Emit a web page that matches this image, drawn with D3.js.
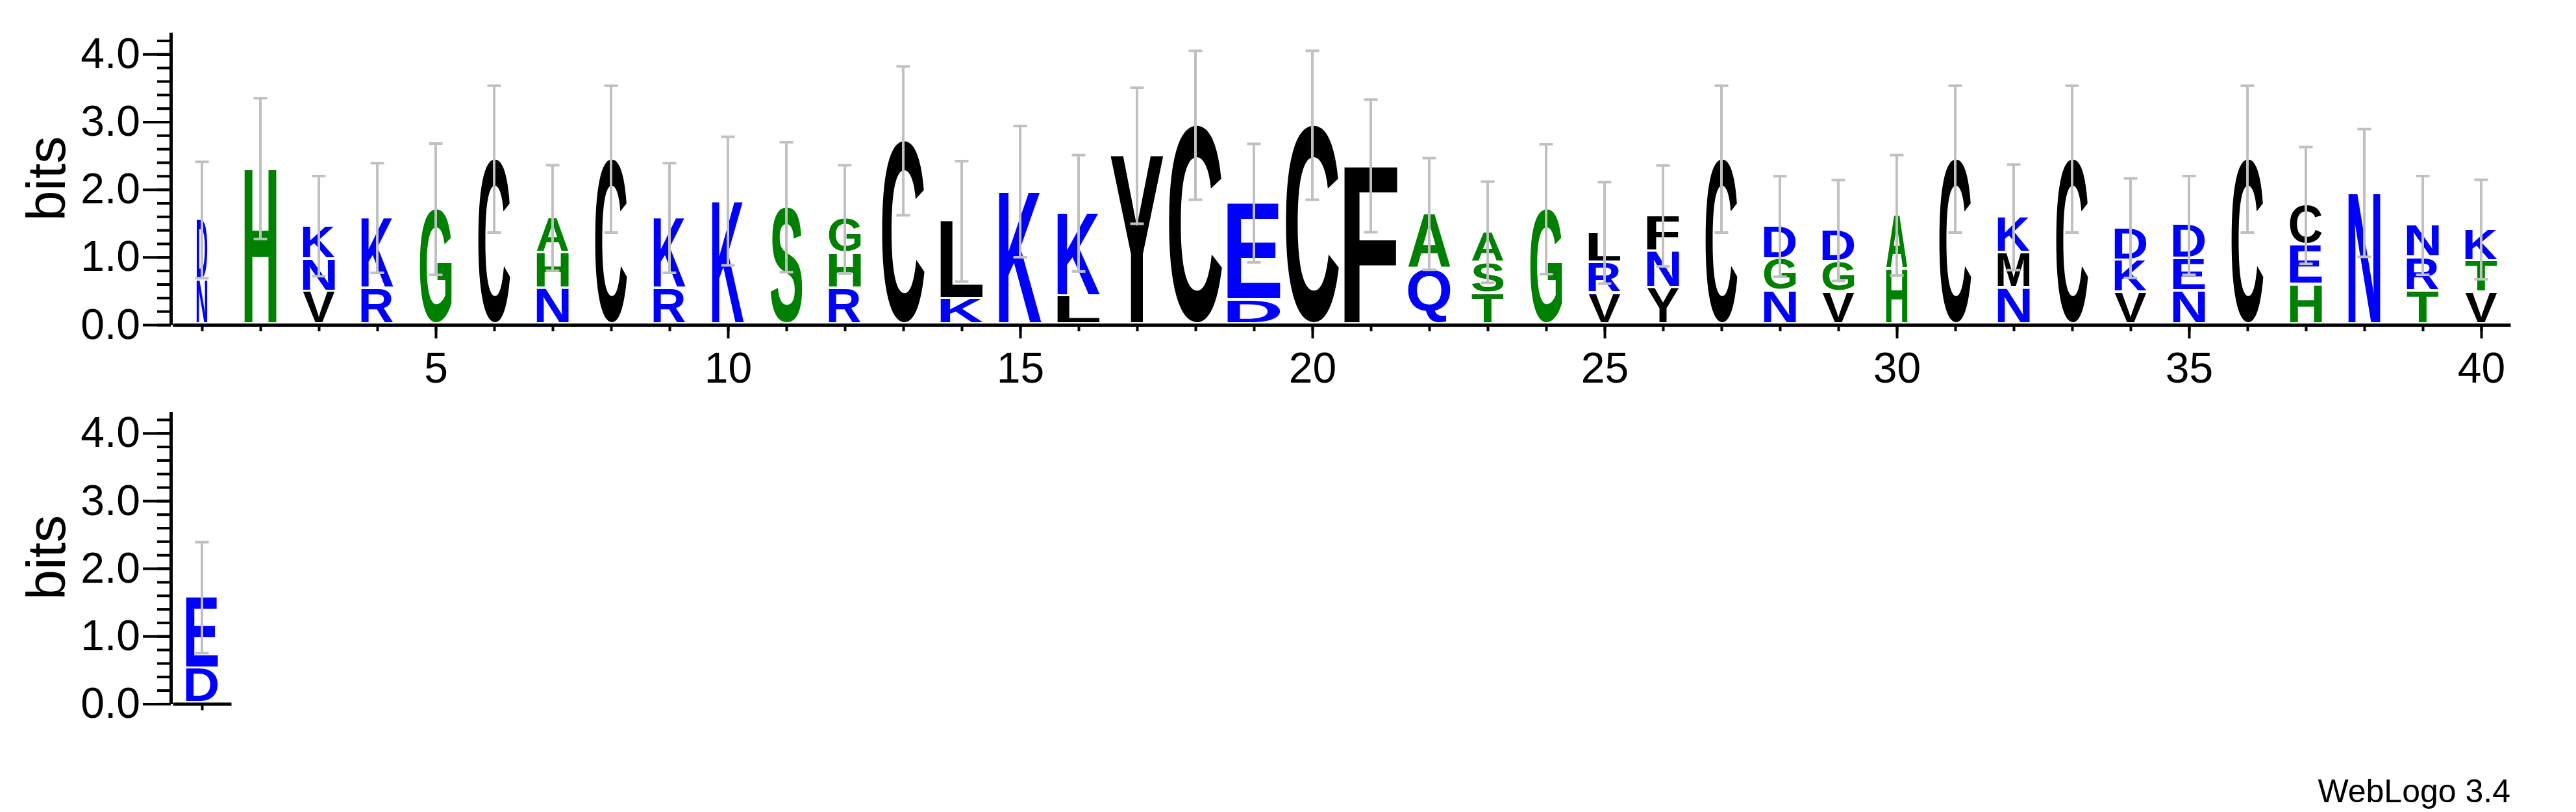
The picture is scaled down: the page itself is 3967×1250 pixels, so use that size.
<!DOCTYPE html>
<html>
<head>
<meta charset="utf-8">
<script src="https://cdn.jsdelivr.net/npm/d3@7"></script>
<style>
body { margin: 0; background: #fff; }
svg { display: block; }
</style>
</head>
<body>
<div id="logo"></div>
<script>

// ---- data (row 1: positions 1-40, row 2: position 1) ----
var positions = d3.range(1, 41);

// letters of each stack, bottom to top
var stackLetters = ["ND", "H", "VNK", "RK", "G", "C", "NHA", "C", "RK", "K",
    "S", "RHG", "C", "KL", "K", "LK", "Y", "C", "DE", "C",
    "F", "QA", "TSA", "G", "VRL", "YNF", "C", "NGD", "VGD", "HA",
    "C", "NMK", "C", "VKD", "NED", "C", "HEC", "N", "TRN", "VTK"];

// height in bits of each letter, same order
var stackBits = [[0.62, 0.89], [2.27], [0.45, 0.48, 0.49], [0.49, 1.05], [1.67], [2.41], [0.49, 0.53, 0.52], [2.41], [0.49, 1.05], [1.79],
    [1.70], [0.49, 0.52, 0.51], [2.68], [0.34, 1.15], [1.93], [0.38, 1.23], [2.46], [2.91], [0.32, 1.44], [2.91],
    [2.31], [0.78, 0.82], [0.42, 0.455, 0.455], [1.67], [0.42, 0.455, 0.445], [0.50, 0.54, 0.53], [2.41], [0.455, 0.475, 0.485], [0.435, 0.455, 0.465], [0.78, 0.80],
    [2.41], [0.50, 0.52, 0.53], [2.41], [0.435, 0.475, 0.48], [0.455, 0.48, 0.495], [2.41], [0.55, 0.585, 0.59], [1.91], [0.455, 0.495, 0.48], [0.435, 0.465, 0.47]];

// half length of error bar, bits
var errorBits = [0.86, 1.04, 0.74, 0.81, 0.97, 1.085, 0.78, 1.085, 0.81, 0.95,
    0.96, 0.80, 1.10, 0.89, 0.97, 0.86, 1.005, 1.10, 0.876, 1.10,
    0.98, 0.825, 0.747, 0.96, 0.75, 0.746, 1.085, 0.743, 0.745, 0.89,
    1.085, 0.78, 1.085, 0.735, 0.73, 1.085, 0.863, 0.944, 0.73, 0.735];

// fraction of sequences present (stack width)
var stackFill = [0.2, 0.6, 0.6, 0.6, 0.6, 0.6, 0.6, 0.6, 0.6, 0.6,
    0.6, 0.6, 0.8, 0.8, 0.8, 0.8, 1.0, 1.0, 1.0, 1.0,
    1.0, 0.8, 0.6, 0.6, 0.6, 0.6, 0.6, 0.6, 0.6, 0.4,
    0.6, 0.6, 0.6, 0.6, 0.6, 0.6, 0.6, 0.6, 0.6, 0.6];

var row2Positions = [1];
var row2Letters = ["DE"];
var row2Bits = [[0.48, 1.05]];
var row2Error = [0.82];
var row2Fill = [0.6];

var yTickValues = [0, 1, 2, 3, 4];
var xTickValues = [5, 10, 15, 20, 25, 30, 35, 40];

// hydrophobicity colour scheme
var hydrophilic = "RKDENQ",
    neutral = "SGHTAP";

function letterColor(c) {
    if (hydrophilic.indexOf(c) >= 0) return "#0000ff";
    if (neutral.indexOf(c) >= 0) return "#008000";
    return "#000000";
}

var width = 3967,
    height = 1250,
    maxBits = 4.32,
    fullWidth = 81.5,
    letterGap = 3.6,
    labelFont = "'Liberation Sans', Arial, Helvetica, sans-serif";

var svg = d3.select("#logo")
    .append("svg")
    .attr("width", width)
    .attr("height", height);

svg.append("rect")
    .attr("width", width)
    .attr("height", height)
    .attr("fill", "#fff");

// ink box of a glyph, measured on a canvas
var canvas = document.createElement("canvas");
var ctx = canvas.getContext("2d");
ctx.font = "bold 200px 'Liberation Sans'";
var inkCache = {};

function ink(ch) {
    if (!inkCache[ch]) {
        var m = ctx.measureText(ch);
        inkCache[ch] = {
            left: -m.actualBoundingBoxLeft,
            right: m.actualBoundingBoxRight,
            top: -m.actualBoundingBoxAscent,
            bottom: m.actualBoundingBoxDescent
        };
    }
    return inkCache[ch];
}

function drawGlyph(g, ch, x0, y0, w, h) {
    var b = ink(ch);
    var sx = w / (b.right - b.left),
        sy = h / (b.bottom - b.top);
    g.append("text")
        .attr("font-family", "'Liberation Sans'")
        .attr("font-weight", "bold")
        .attr("font-size", 200)
        .attr("fill", letterColor(ch))
        .attr("transform", "translate(" + x0 + "," + y0 + ") scale(" + sx + "," + sy + ") translate(" + (-b.left) + "," + (-b.top) + ")")
        .text(ch);
}

function drawRow(opts) {
    var y = d3.scaleLinear()
        .domain([0, maxBits])
        .range([opts.bottom, opts.bottom - 450]);

    var x = d3.scaleLinear()
        .domain([opts.positions[0] - 0.5, opts.positions[opts.positions.length - 1] + 0.5])
        .range([266, 266 + 90 * opts.positions.length]);

    function px(b) {
        return y(0) - y(b);
    }

    var base = y(0) - 4;

    // y axis: minor then major ticks
    var yMinor = svg.append("g")
        .attr("transform", "translate(263,0)")
        .call(d3.axisLeft(y).tickValues(d3.range(0, 4.3, 0.2)).tickSize(21).tickFormat(""));
    yMinor.select(".domain").remove();

    var yMajor = svg.append("g")
        .attr("transform", "translate(263,0)")
        .call(d3.axisLeft(y).tickValues(yTickValues).tickSize(43).tickSizeOuter(0).tickPadding(4).tickFormat(d3.format(".1f")));

    // x axis
    var xMinor = svg.append("g")
        .attr("transform", "translate(0," + y(0) + ")")
        .call(d3.axisBottom(x).tickValues(opts.positions).tickSize(10).tickSizeOuter(0).tickFormat(""));

    var xMajor = svg.append("g")
        .attr("transform", "translate(0," + y(0) + ")")
        .call(d3.axisBottom(x).tickValues(opts.xLabels).tickSize(21).tickPadding(21));
    xMajor.select(".domain").remove();

    yMinor.selectAll(".tick text").remove();
    xMinor.selectAll(".tick text").remove();

    [yMinor, yMajor, xMinor, xMajor].forEach(function(a) {
        a.attr("font-family", labelFont).attr("font-size", 66);
        a.selectAll(".tick line").attr("stroke-width", 4);
        a.selectAll(".domain").attr("stroke-width", 5);
        a.selectAll("text").attr("fill", "#000");
    });

    svg.append("text")
        .attr("transform", "translate(100," + y(maxBits / 2) + ") rotate(-90)")
        .attr("text-anchor", "middle")
        .attr("font-family", labelFont)
        .attr("font-size", 84)
        .text("bits");

    var stacks = svg.append("g");
    var bars = svg.append("g");

    opts.positions.forEach(function(p, i) {
        var cx = x(p),
            w = fullWidth * opts.fill[i],
            cum = 0;
        var letters = opts.letters[i].split("");
        letters.forEach(function(ch, j) {
            var h = opts.bits[i][j];
            var yb = base - px(cum),
                yt = base - px(cum + h);
            if (j > 0) yb -= letterGap;
            drawGlyph(stacks, ch, cx - w / 2, yt, w, yb - yt);
            cum += h;
        });

        var top = base - px(cum),
            e = px(opts.err[i]);
        bars.append("line")
            .attr("x1", cx).attr("x2", cx)
            .attr("y1", top - e).attr("y2", top + e);
        bars.append("line")
            .attr("x1", cx - 10.5).attr("x2", cx + 10.5)
            .attr("y1", top - e).attr("y2", top - e);
        bars.append("line")
            .attr("x1", cx - 10.5).attr("x2", cx + 10.5)
            .attr("y1", top + e).attr("y2", top + e);
    });

    bars.selectAll("line")
        .attr("stroke", "#c0c0c0")
        .attr("stroke-width", 4);
}

drawRow({
    bottom: 500,
    positions: positions,
    letters: stackLetters,
    bits: stackBits,
    err: errorBits,
    fill: stackFill,
    xLabels: xTickValues
});

drawRow({
    bottom: 1083.4,
    positions: row2Positions,
    letters: row2Letters,
    bits: row2Bits,
    err: row2Error,
    fill: row2Fill,
    xLabels: []
});

svg.append("text")
    .attr("x", 3866)
    .attr("y", 1235)
    .attr("text-anchor", "end")
    .attr("font-family", labelFont)
    .attr("font-size", 50)
    .text("WebLogo 3.4");

</script>
</body>
</html>
